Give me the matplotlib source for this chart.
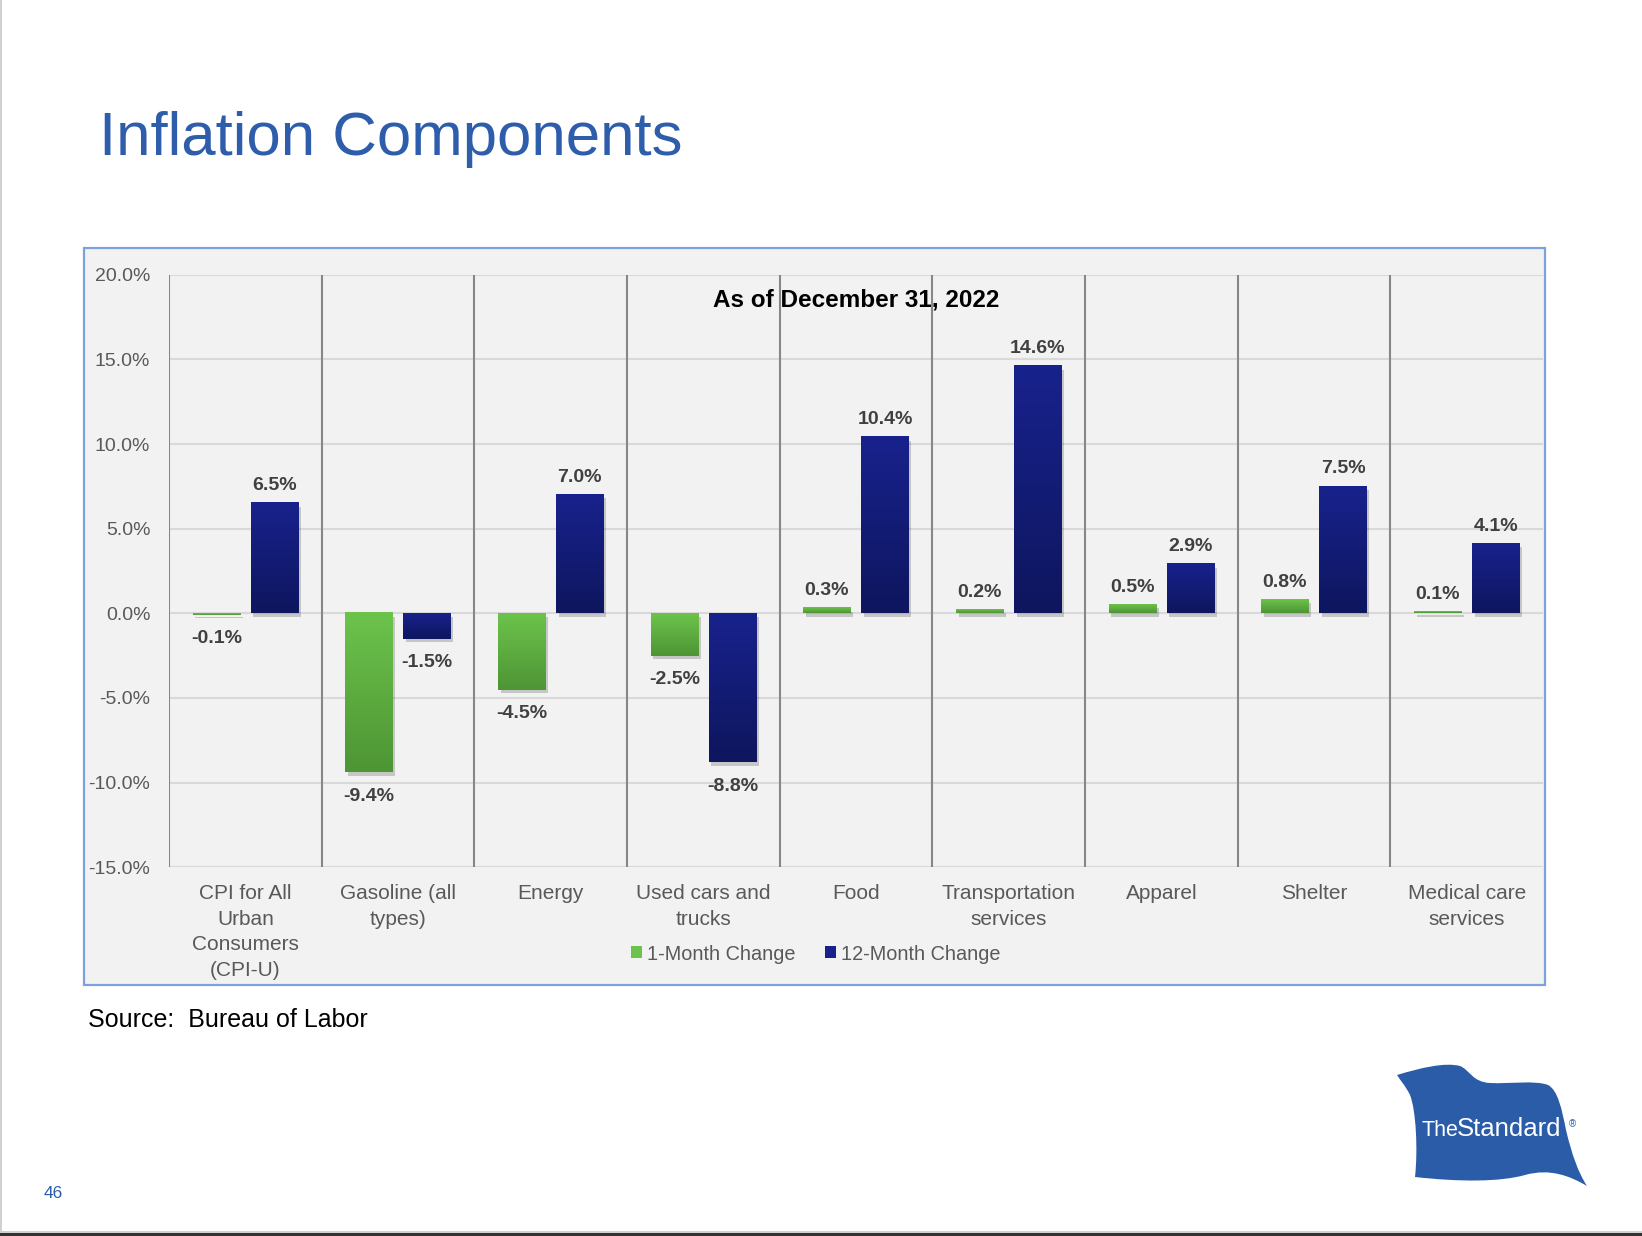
import numpy as np
import matplotlib
matplotlib.use("Agg")
import matplotlib.pyplot as plt
from matplotlib.patches import Rectangle, Patch, PathPatch
from matplotlib.path import Path
from matplotlib.colors import LinearSegmentedColormap
import matplotlib.patheffects as pe

plt.rcParams['font.family'] = ['Liberation Sans', 'DejaVu Sans']

# ---------------- data ----------------
categories = ["CPI for All\nUrban\nConsumers\n(CPI-U)", "Gasoline (all\ntypes)", "Energy",
              "Used cars and\ntrucks", "Food", "Transportation\nservices", "Apparel",
              "Shelter", "Medical care\nservices"]
one_month = [-0.1, -9.4, -4.5, -2.5, 0.3, 0.2, 0.5, 0.8, 0.1]
twelve_month = [6.5, -1.5, 7.0, -8.8, 10.4, 14.6, 2.9, 7.5, 4.1]
series_names = ["1-Month Change", "12-Month Change"]
yticks = [-15, -10, -5, 0, 5, 10, 15, 20]

W, H = 1642, 1236
fig = plt.figure(figsize=(W / 100, H / 100), dpi=100)
fig.patch.set_facecolor("white")

# background / decoration axes in pixel coordinates
bg = fig.add_axes([0, 0, 1, 1], zorder=0)
bg.set_xlim(0, W)
bg.set_ylim(H, 0)
bg.axis("off")

# slide borders
bg.add_patch(Rectangle((0, 0), 2, H, facecolor="#d0d0d0", edgecolor="none"))
bg.add_patch(Rectangle((0, H - 3), W, 3, facecolor="#333333", edgecolor="none"))
bg.add_patch(Rectangle((0, H - 5), W, 2, facecolor="#cfcfcf", edgecolor="none"))

# chart frame
bg.add_patch(Rectangle((84, 248), 1461, 737, facecolor="#f2f2f2",
                       edgecolor="#7ba2de", linewidth=1.6))

title_blue = "#2d5dab"
bg.text(99, 155, "Inflation Components", fontsize=44.5, color=title_blue,
        va="baseline", ha="left")
bg.text(88, 1027, "Source:  Bureau of Labor", fontsize=18, color="black",
        va="baseline", ha="left")
bg.text(44, 1198, "46", fontsize=12.5, color=title_blue, va="baseline", ha="left")

# logo flag
verts = [(1397, 1075),
         (1420, 1068), (1445, 1062), (1460, 1066),
         (1470, 1070), (1472, 1082), (1490, 1083),
         (1510, 1084), (1535, 1080), (1548, 1085),
         (1558, 1090), (1562, 1110), (1566, 1130),
         (1572, 1155), (1578, 1172), (1587, 1186),
         (1570, 1176), (1550, 1168), (1525, 1175),
         (1500, 1182), (1460, 1182), (1415, 1177),
         (1418, 1150), (1416, 1110), (1410, 1095),
         (1405, 1085), (1400, 1080), (1397, 1075),
         (1397, 1075)]
codes = [Path.MOVETO] + [Path.CURVE4] * 27 + [Path.CLOSEPOLY]
bg.add_patch(PathPatch(Path(verts, codes), facecolor="#2b5ca8", edgecolor="none"))
bg.text(1421, 1136, "The", fontsize=15.5, color="white", va="baseline", ha="left")
bg.text(1457, 1136, "Standard", fontsize=18.5, color="white", va="baseline", ha="left")
bg.text(1572, 1124, "®", fontsize=7, color="#2b5ca8", va="center", ha="center")

# ---------------- main chart ----------------
left, right, top, bottom = 169, 1543, 274.7, 867.3
ax = fig.add_axes([left / W, 1 - bottom / H, (right - left) / W, (bottom - top) / H], zorder=1)
ax.set_facecolor("#f2f2f2")
for s in ax.spines.values():
    s.set_visible(False)

x = np.arange(len(categories))
bw = 0.31
off = 0.19

green_dark, green_light = "#4e9535", "#6cc34b"
blue_dark, blue_light = "#0e165e", "#18228c"

b1 = ax.bar(x - off, one_month, bw, color=green_light, zorder=2, label=series_names[0])
b2 = ax.bar(x + off, twelve_month, bw, color=blue_light, zorder=2, label=series_names[1])

shadow = [pe.SimplePatchShadow(offset=(2, -2.5), shadow_rgbFace="black", alpha=0.18), pe.Normal()]
grad = np.linspace(0, 1, 64).reshape(-1, 1)
for bars, (dark, light) in ((b1, (green_dark, green_light)), (b2, (blue_dark, blue_light))):
    cmap = LinearSegmentedColormap.from_list("g", [dark, light])
    for p in bars:
        p.set_path_effects(shadow)
        x0, y0 = p.get_x(), p.get_y()
        w, h = p.get_width(), p.get_height()
        lo, hi = min(y0, y0 + h), max(y0, y0 + h)
        ax.imshow(grad, extent=[x0, x0 + w, lo, hi], origin="lower", cmap=cmap,
                  aspect="auto", zorder=2.1, interpolation="bilinear")

# grid and separators
for t in yticks:
    ax.axhline(t, color="#d9d9d9", lw=1.5, zorder=1)
for i in range(len(categories)):
    ax.axvline(i - 0.5, color="#878787", lw=1.5, zorder=1.5)

# data labels
lab_color = "#404040"
for bars, vals in ((b1, one_month), (b2, twelve_month)):
    for p, v in zip(bars, vals):
        cx = p.get_x() + p.get_width() / 2
        if v >= 0:
            ax.annotate(f"{v:.1f}%", (cx, v), xytext=(0, 6.5), textcoords="offset points",
                        ha="center", va="bottom", fontsize=14, fontweight="bold",
                        color=lab_color, zorder=4)
        else:
            ax.annotate(f"{v:.1f}%", (cx, v), xytext=(0, -11), textcoords="offset points",
                        ha="center", va="top", fontsize=14, fontweight="bold",
                        color=lab_color, zorder=4)

ax.text(0.5, 1 - (306.7 - top) / (bottom - top), "As of December 31, 2022",
        transform=ax.transAxes, ha="center", va="baseline", fontsize=17.5,
        fontweight="bold", color="black", zorder=0.5)

ax.set_xlim(-0.5, len(categories) - 0.5)
ax.set_ylim(min(yticks), max(yticks))
ax.set_yticks(yticks)
ax.set_yticklabels([f"{t:.1f}%" for t in yticks])
ax.set_xticks(x)
ax.set_xticklabels(categories)
ax.tick_params(axis="y", length=0, pad=13.5, labelsize=14, labelcolor="#595959")
ax.tick_params(axis="x", length=0, pad=12, labelsize=15, labelcolor="#595959")
for lbl in ax.get_xticklabels():
    lbl.set_linespacing(1.45)
    lbl.set_va("top")

handles = [Patch(facecolor=green_light, edgecolor="none"),
           Patch(facecolor=blue_light, edgecolor="none")]
fig.legend(handles, series_names, loc="center", bbox_to_anchor=(816 / W, 1 - 954 / H),
           ncol=2, frameon=False, fontsize=14.3, labelcolor="#595959",
           handlelength=0.55, handleheight=0.55, handletextpad=0.25, columnspacing=1.5)

fig.savefig("out.png", dpi=100, facecolor="white")
